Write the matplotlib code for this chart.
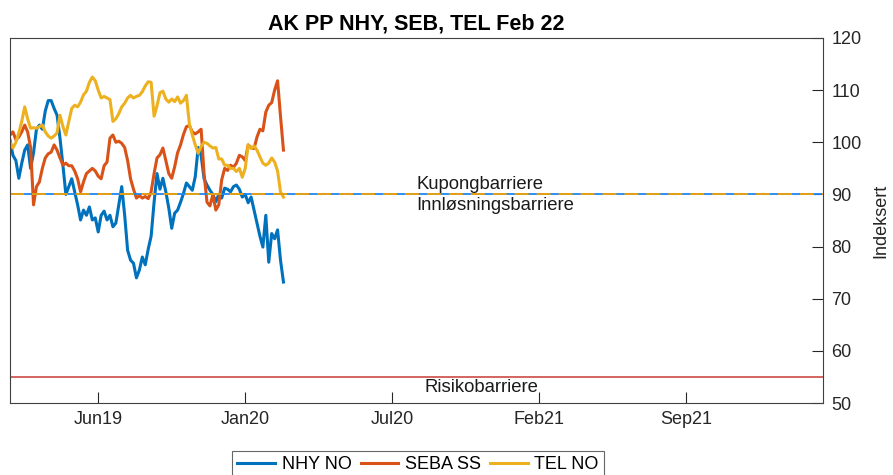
import numpy as np
import pandas as pd
import matplotlib
matplotlib.use('Agg')
import matplotlib.pyplot as plt
import matplotlib.transforms as mtransforms

plt.rcParams['font.family'] = ['Liberation Sans', 'DejaVu Sans']
plt.rcParams['lines.scale_dashes'] = False

# Data (indexed levels, sampled every 4 days)
dates = pd.date_range('2019-02-15', periods=94, freq='4D')

nhy = [100.4, 97.5, 96.5, 93.1, 96.0, 98.5, 99.5, 95.0, 98.0, 102.5,
       103.3, 102.5, 106.0, 108.0, 108.0, 106.5, 105.2, 100.8, 95.6, 90.0,
       91.5, 93.0, 90.5, 88.0, 85.1, 87.0, 86.0, 87.6, 85.1, 85.5,
       82.8, 86.0, 86.8, 85.1, 86.0, 83.8, 84.5, 88.0, 91.5, 86.0,
       79.3, 77.4, 76.8, 74.0, 75.5, 78.0, 76.5, 79.5, 82.0, 88.5,
       94.0, 91.0, 93.1, 90.5, 87.4, 83.5, 86.4, 87.0, 88.5, 90.2,
       92.2, 91.5, 90.8, 93.4, 99.0, 97.5, 93.0, 91.8, 90.8, 90.0,
       88.6, 90.0, 89.3, 91.2, 91.0, 90.5, 91.5, 91.8, 91.0, 89.5,
       90.0, 88.4, 89.5, 87.0, 84.5, 82.0, 79.9, 86.0, 77.0, 82.5,
       81.5, 83.2, 77.4, 73.2]

seba = [101.4, 102.0, 100.5, 101.0, 102.0, 103.3, 102.0, 99.0, 88.0, 91.5,
        92.4, 95.0, 97.0, 97.8, 98.1, 99.5, 98.5, 97.0, 95.6, 96.0,
        95.5, 95.5, 94.5, 93.0, 90.5, 92.4, 94.0, 94.5, 95.0, 94.5,
        93.5, 93.0, 95.5, 96.2, 100.8, 101.4, 100.0, 100.2, 99.8, 99.0,
        96.5, 93.0, 91.0, 89.3, 89.8, 89.3, 89.6, 89.2, 90.5, 94.0,
        97.0, 97.6, 98.9, 96.5, 94.0, 93.1, 95.3, 98.0, 99.5, 101.5,
        103.0, 103.2, 102.0, 101.6, 102.0, 102.5, 94.0, 88.5, 87.8, 90.0,
        87.0, 88.0, 92.8, 95.0, 94.6, 95.6, 95.2, 96.0, 97.5, 97.2,
        96.5, 99.5, 99.0, 98.8, 101.0, 102.5, 102.2, 105.8, 107.1, 107.6,
        110.0, 111.8, 105.0, 98.5]

tel = [100.0, 98.9, 100.0, 101.8, 104.0, 106.8, 104.5, 102.7, 102.8, 102.7,
       103.0, 103.3, 102.0, 101.2, 100.8, 101.2, 101.8, 105.2, 103.0, 101.4,
       104.0, 106.5, 107.1, 106.8, 107.7, 109.1, 109.8, 111.5, 112.5, 111.8,
       110.0, 108.5, 108.8, 108.5, 108.2, 104.0, 104.5, 105.5, 106.8, 107.5,
       108.5, 109.0, 108.5, 108.8, 109.0, 109.7, 110.8, 111.6, 111.5, 105.0,
       107.0, 109.5, 109.8, 108.3, 107.7, 108.3, 107.8, 108.7, 107.5, 108.0,
       109.0, 103.5, 101.4, 99.5, 97.9, 99.2, 100.0, 99.8, 99.3, 98.9,
       99.0, 96.8, 96.8, 95.6, 95.6, 95.0, 95.0, 94.4, 95.0, 93.3,
       95.0, 99.5, 98.8, 99.3, 98.5, 97.2, 96.0, 95.6, 96.0, 97.0,
       96.2, 94.5, 90.5, 89.5]

series_names = ['NHY NO', 'SEBA SS', 'TEL NO']
series_colors = ['#0072BD', '#D95319', '#EDB120']

coupon_barrier = 90
risk_barrier = 55

x_start, x_end = pd.Timestamp('2019-02-15'), pd.Timestamp('2022-02-25')
tick_dates = pd.to_datetime(['2019-06-15', '2020-01-01', '2020-07-19', '2021-02-04', '2021-08-23'])
tick_labels = ['Jun19', 'Jan20', 'Jul20', 'Feb21', 'Sep21']
y_ticks = [50, 60, 70, 80, 90, 100, 110, 120]

fig = plt.figure(figsize=(8.93, 4.75), dpi=100)
ax = fig.add_axes([10 / 893, 72 / 475, 813 / 893, 365 / 475])

for vals, name, col in zip([nhy, seba, tel], series_names, series_colors):
    ax.plot(dates, vals, color=col, lw=2.2, label=name)

# barriers
ax.axhline(coupon_barrier, color='#1C86F0', lw=1.3)
ax.axhline(coupon_barrier, color='#F2A100', lw=1.3, dashes=(10, 5.8))
ax.axhline(risk_barrier, color='#CC4A44', lw=1.2)

trans = mtransforms.blended_transform_factory(ax.transAxes, ax.transData)
ax.text(0.5, coupon_barrier + 0.3, 'Kupongbarriere', transform=trans,
        ha='left', va='bottom', fontsize=13.3, color='#1a1a1a')
ax.text(0.5, coupon_barrier - 0.4, 'Innløsningsbarriere', transform=trans,
        ha='left', va='top', fontsize=13.3, color='#1a1a1a')
ax.text(0.58, risk_barrier - 0.4, 'Risikobarriere', transform=trans,
        ha='center', va='top', fontsize=13.3, color='#1a1a1a')

ax.set_xlim(x_start, x_end)
ax.set_ylim(50, 120)
ax.set_xticks(tick_dates)
ax.set_xticklabels(tick_labels)
ax.set_yticks(y_ticks)

ax.yaxis.tick_right()
ax.yaxis.set_label_position('right')
ax.set_ylabel('Indeksert', fontsize=13, color='#262626', labelpad=8)
ax.tick_params(axis='both', direction='in', length=8, width=0.8,
               labelsize=13, colors='#262626', pad=6)
for sp in ax.spines.values():
    sp.set_color('#404040')
    sp.set_linewidth(0.8)

ax.set_title('AK PP NHY, SEB, TEL Feb 22', fontsize=15.5, fontweight='bold', pad=6)

leg = fig.legend(loc='upper center', bbox_to_anchor=(0.468, 1 - 451 / 475), ncol=3,
                 fontsize=13, frameon=True, fancybox=False, edgecolor='#404040',
                 handlelength=2.1, handletextpad=0.35, columnspacing=0.5,
                 borderpad=0.3, borderaxespad=0)
leg.get_frame().set_linewidth(0.8)

fig.savefig('out.png', dpi=100)
